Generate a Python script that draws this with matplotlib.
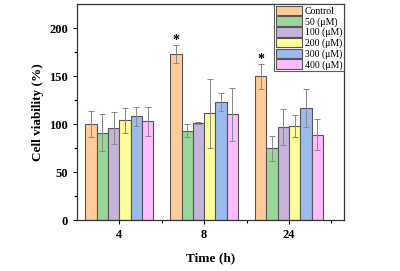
import numpy as np
import matplotlib
matplotlib.use("Agg")
from matplotlib import pyplot as plt

times = ["4", "8", "24"]
series = ["Control", "50 (μM)", "100 (μM)", "200 (μM)", "300 (μM)", "400 (μM)"]
values = [
    [100, 173, 150],
    [91, 93, 75],
    [96, 101, 97],
    [104, 111, 98],
    [108, 123, 117],
    [103, 110, 89],
]
errors = [
    [14, 9, 13],
    [19, 7, 13],
    [17, 1, 19],
    [13, 36, 11],
    [10, 9, 20],
    [15, 28, 16],
]
colors = ["#FFCC99", "#99D699", "#C5B3D9", "#FFFF99", "#99BBEE", "#FFBBFF"]
stars = ["", "*", "*"]

plt.rcParams["font.family"] = ["Liberation Serif", "DejaVu Serif"]

fig = plt.figure(figsize=(4, 2.71), dpi=100)
ax = fig.add_axes([0.1925, 0.188, 0.6675, 0.797])

x = np.arange(1, len(times) + 1)
w = 0.8 / len(series)
for i, (name, v, e, c) in enumerate(zip(series, values, errors, colors)):
    pos = x - 0.4 + w * (i + 0.5)
    ax.bar(pos, v, width=w, color=c, edgecolor="#555555", linewidth=0.8, label=name,
           yerr=e, error_kw=dict(ecolor="#888888", elinewidth=0.7, capsize=2, capthick=0.7))
    if i == 0:
        for p, val, err, s in zip(pos, v, e, stars):
            if s:
                ax.text(p, val + err - 2, s, ha="center", va="bottom", fontsize=10, fontweight="bold")

ax.set_xlim(0.5, 3.65)
ax.set_ylim(0, 225)
ax.set_xticks(x)
ax.set_xticklabels(times, fontweight="bold", fontsize=9)
ax.set_xticks([1.5, 2.5, 3.5], minor=True)
ax.set_yticks([0, 50, 100, 150, 200])
ax.set_yticks([25, 75, 125, 175], minor=True)
for lab in ax.get_yticklabels():
    lab.set_fontweight("bold")
    lab.set_fontsize(9)
ax.tick_params(direction="out", length=3, width=0.8)
ax.tick_params(which="minor", direction="out", length=2, width=0.8)
for s in ax.spines.values():
    s.set_linewidth(0.9)
    s.set_color("#333333")

ax.set_xlabel("Time (h)", fontweight="bold", fontsize=9.5, labelpad=8)
ax.set_ylabel("Cell viability (%)", fontweight="bold", fontsize=9.5, labelpad=4)

leg = ax.legend(loc="upper right", fontsize=7, frameon=True, fancybox=False,
                edgecolor="#333333", handlelength=2.6, handleheight=1.1,
                handletextpad=0.3, labelspacing=0.05, borderpad=0.2,
                borderaxespad=0.0)
leg.get_frame().set_linewidth(0.8)

fig.savefig("out.png", dpi=100)
